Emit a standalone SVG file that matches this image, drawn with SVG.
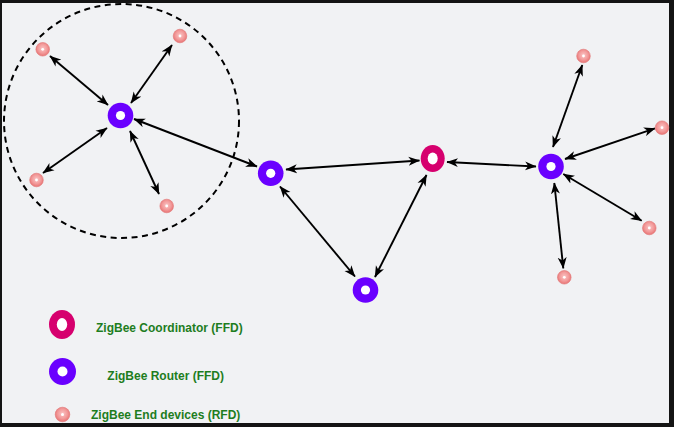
<svg xmlns="http://www.w3.org/2000/svg" width="674" height="427" viewBox="0 0 674 427">
<defs>
<style>
.bg{fill:#141414}
.panel{fill:#f1f2f4}
.router{fill:#6a00ff}
.coord{fill:#d6006e}
.hole{fill:#ffffff}
.end{fill:url(#endGrad);stroke:#e07575;stroke-width:0.6}
.dot{fill:#ffffff}
.conn line{stroke:#000;stroke-width:1.9;marker-start:url(#arr);marker-end:url(#arr)}
.lbl{font-family:"Liberation Sans",Arial,sans-serif;font-size:12px;font-weight:bold;fill:#1e7d1e}
</style>
<radialGradient id="endGrad" cx="50%" cy="45%" r="55%">
<stop offset="0" stop-color="#fbc4c4"/>
<stop offset="0.6" stop-color="#f29a9a"/>
<stop offset="1" stop-color="#e87272"/>
</radialGradient>
<marker id="arr" markerUnits="userSpaceOnUse" markerWidth="12" markerHeight="10" viewBox="0 0 12 10" refX="11" refY="5" orient="auto-start-reverse">
<path d="M0,0.5 L11.5,5 L0,9.5 L3.2,5 Z" fill="#000"/>
</marker>
</defs>
<rect class="bg" x="0" y="0" width="674" height="427"/>
<rect class="panel" x="2" y="3" width="667" height="420"/>
<ellipse cx="121.5" cy="121" rx="117.5" ry="117" fill="none" stroke="#000" stroke-width="2" stroke-dasharray="6,4.5"/>
<g class="conn" id="connectors">
<line x1="50" y1="56" x2="108" y2="105"/>
<line x1="172" y1="45" x2="131" y2="103"/>
<line x1="43" y1="173" x2="107" y2="128"/>
<line x1="130" y1="131" x2="159" y2="194"/>
<line x1="134" y1="119" x2="257" y2="166.5"/>
<line x1="286" y1="169.5" x2="419.5" y2="160.5"/>
<line x1="280" y1="186.5" x2="355" y2="276.5"/>
<line x1="426.5" y1="175" x2="375" y2="277"/>
<line x1="447" y1="162" x2="536" y2="166.5"/>
<line x1="582.3" y1="65" x2="553" y2="147"/>
<line x1="655" y1="128.3" x2="565" y2="159"/>
<line x1="563.3" y1="174" x2="641.7" y2="220.7"/>
<line x1="554.3" y1="183" x2="563.3" y2="268.3"/>
</g>
<g id="routerA"><circle class="router" cx="120.5" cy="115.5" r="12.8"/><circle class="hole" cx="120.5" cy="115.5" r="4.6"/></g>
<g id="routerB"><circle class="router" cx="270.7" cy="173.3" r="12.8"/><circle class="hole" cx="270.7" cy="173.3" r="4.6"/></g>
<g id="routerC"><circle class="router" cx="365.5" cy="290" r="12.8"/><circle class="hole" cx="365.5" cy="290" r="4.6"/></g>
<g id="routerD"><circle class="router" cx="551" cy="166.5" r="12.8"/><circle class="hole" cx="551" cy="166.5" r="4.6"/></g>
<g id="coordinator"><ellipse class="coord" cx="432.7" cy="158.5" rx="12" ry="13.5"/><ellipse class="hole" cx="432.7" cy="158.5" rx="5" ry="6"/></g>
<g id="end1"><circle class="end" cx="42.7" cy="49.3" r="6.8"/><circle class="dot" cx="42.7" cy="49.3" r="1.4"/></g>
<g id="end2"><circle class="end" cx="180" cy="36" r="6.8"/><circle class="dot" cx="180" cy="36" r="1.4"/></g>
<g id="end3"><circle class="end" cx="36.5" cy="180" r="6.8"/><circle class="dot" cx="36.5" cy="180" r="1.4"/></g>
<g id="end4"><circle class="end" cx="166.7" cy="206" r="6.8"/><circle class="dot" cx="166.7" cy="206" r="1.4"/></g>
<g id="end5"><circle class="end" cx="583.5" cy="56" r="6.8"/><circle class="dot" cx="583.5" cy="56" r="1.4"/></g>
<g id="end6"><circle class="end" cx="662" cy="127.7" r="6.8"/><circle class="dot" cx="662" cy="127.7" r="1.4"/></g>
<g id="end7"><circle class="end" cx="649.3" cy="228" r="6.8"/><circle class="dot" cx="649.3" cy="228" r="1.4"/></g>
<g id="end8"><circle class="end" cx="564.3" cy="277.3" r="6.8"/><circle class="dot" cx="564.3" cy="277.3" r="1.4"/></g>
<g id="legendCoordinator"><ellipse class="coord" cx="62" cy="324.5" rx="13" ry="14.5"/><ellipse class="hole" cx="62" cy="324.5" rx="5.2" ry="6.5"/><text class="lbl" x="96" y="331.5">ZigBee Coordinator (FFD)</text></g>
<g id="legendRouter"><circle class="router" cx="62.5" cy="371.5" r="13.5"/><circle class="hole" cx="62.5" cy="371.5" r="5"/><text class="lbl" x="107.3" y="380">ZigBee Router (FFD)</text></g>
<g id="legendEnd"><circle class="end" cx="62.5" cy="414.5" r="7.3"/><circle class="dot" cx="62.5" cy="414.5" r="1.5"/><text class="lbl" x="91" y="419.3">ZigBee End devices (RFD)</text></g>
</svg>
